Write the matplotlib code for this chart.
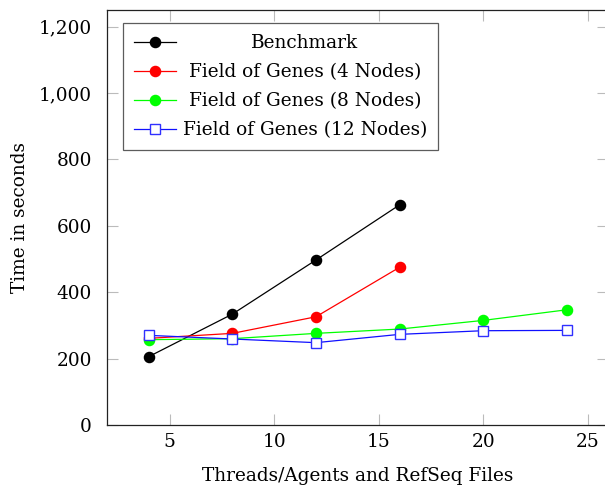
import matplotlib.pyplot as plt
from matplotlib.ticker import FuncFormatter

# ------------------------------------------------------------------ #
#  Data
# ------------------------------------------------------------------ #
bench_x = [4, 8, 12, 16]
bench_y = [206, 334, 497, 663]

nodes4_x = [4, 8, 12, 16]
nodes4_y = [261, 276, 326, 475]

nodes8_x = [4, 8, 12, 16, 20, 24]
nodes8_y = [257, 260, 276, 289, 315, 347]

nodes12_x = [4, 8, 12, 16, 20, 24]
nodes12_y = [270, 259, 248, 273, 284, 285]

labels = ["Benchmark",
          "Field of Genes (4 Nodes)",
          "Field of Genes (8 Nodes)",
          "Field of Genes (12 Nodes)"]

plt.rcParams["font.family"] = ["DejaVu Serif"]
FS = 13.3
MS = 7.3

W, H = 605, 492
fig = plt.figure(figsize=(W / 100, H / 100), dpi=100)
ax = fig.add_axes([107 / W, (H - 425) / H, (608.5 - 107) / W, (425 - 10) / H])

ax.plot(bench_x, bench_y, color="black", lw=0.9, marker="o", ms=MS,
        label=labels[0])
ax.plot(nodes4_x, nodes4_y, color="#ff0000", lw=0.9, marker="o", ms=MS,
        label=labels[1])
ax.plot(nodes8_x, nodes8_y, color="#00ff00", lw=0.9, marker="o", ms=MS,
        label=labels[2])
ax.plot(nodes12_x, nodes12_y, color="#1010ff", lw=0.9, marker="s", ms=MS,
        mfc="white", mec="#3030ff", mew=1.0, label=labels[3])

ax.set_xlim(2, 26)
ax.set_ylim(0, 1250)
ax.set_xticks([5, 10, 15, 20, 25])
ax.set_yticks([0, 200, 400, 600, 800, 1000, 1200])
ax.yaxis.set_major_formatter(FuncFormatter(lambda v, p: f"{v:,.0f}"))

ax.tick_params(direction="in", length=8, width=0.8, color="#bbbbbb",
               top=True, right=True, labelsize=FS)
ax.tick_params(axis="x", pad=6)
ax.tick_params(axis="y", pad=11)
for s in ax.spines.values():
    s.set_linewidth(0.9)
    s.set_color("#222222")

ax.set_xlabel("Threads/Agents and RefSeq Files", fontsize=FS, labelpad=11)
ax.set_ylabel("Time in seconds", fontsize=FS, labelpad=7)

leg = ax.legend(loc="upper left", bbox_to_anchor=(0.0313, 0.9687),
                fontsize=FS, frameon=True, fancybox=False, edgecolor="#333333",
                handlelength=2.3, handletextpad=0.35, borderpad=0.6,
                labelspacing=0.6, borderaxespad=0)
leg.get_frame().set_linewidth(0.9)

# centre the legend texts like pgfplots does (shift each one right)
renderer = fig.canvas.get_renderer()
widths = [t.get_window_extent(renderer).width for t in leg.get_texts()]
wmax = max(widths)
for t, w in zip(leg.get_texts(), widths):
    t.set_position(((wmax - w) / 2, 0))

fig.savefig("out.png", dpi=100)
